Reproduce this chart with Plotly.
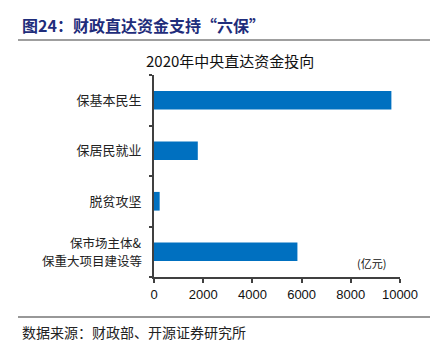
import plotly.graph_objects as go

categories = ["保基本民生", "保居民就业", "脱贫攻坚", "保市场主体&<br>保重大项目建设等"]
values = [9650, 1780, 230, 5830]
x_ticks = [0, 2000, 4000, 6000, 8000, 10000]

CJK = "Noto Sans CJK SC"
fig = go.Figure()
fig.add_trace(go.Bar(
    y=categories, x=values, orientation="h",
    marker=dict(color="#0070C0", line=dict(width=0)),
    width=0.37,
))

# multi-line category labels drawn as separate lines to keep proper spacing
tick_text = [c if "<br>" not in c else "" for c in categories]
label_annots = []
for c in categories:
    if "<br>" in c:
        parts = c.split("<br>")
        n = len(parts)
        for i, p in enumerate(parts):
            label_annots.append(dict(
                text=p, xref="paper", yref="y", x=(143-154)/246, y=c,
                xanchor="right", yanchor="middle", showarrow=False,
                borderpad=0, yshift=(n - 1) / 2 * 18 - i * 18,
                font=dict(family=CJK, size=12.5, color="#222")))

fig.update_layout(
    width=436, height=347,
    margin=dict(l=154, r=36, t=75, b=70),
    paper_bgcolor="white", plot_bgcolor="white",
    showlegend=False,
    xaxis=dict(
        range=[0, 10000], tickvals=x_ticks, ticktext=[str(v) for v in x_ticks],
        showgrid=False, zeroline=False, showline=True, linecolor="#404040", linewidth=2,
        ticks="outside", ticklen=4, tickcolor="#404040", tickwidth=1.5,
        tickfont=dict(family="Liberation Sans, Arial", size=13, color="#111"),
        fixedrange=True,
    ),
    yaxis=dict(
        categoryorder="array", categoryarray=categories, autorange="reversed",
        tickmode="array", tickvals=categories, ticktext=tick_text,
        showgrid=False, zeroline=False, showline=True, linecolor="#404040", linewidth=2,
        ticks="outside", ticklen=3, tickcolor="#404040", tickwidth=1.5,
        tickson="boundaries",
        tickfont=dict(family=CJK, size=13, color="#222"),
        ticklabelstandoff=8,
        fixedrange=True,
    ),
    bargap=0.63,
    annotations=label_annots + [
        dict(text="<b>图24：财政直达资金支持“六保”</b>", xref="paper", yref="paper",
             x=(20-154)/246, y=1 + (75-25)/202,
             xanchor="left", yanchor="middle", showarrow=False,
             font=dict(family=CJK, size=16, color="#1F2D7B")),
        dict(text="2020年中央直达资金投向", xref="paper", yref="paper",
             x=(230-154)/246, y=1 + (75-61)/202, xanchor="center", yanchor="middle",
             showarrow=False, font=dict(family=CJK, size=15, color="#111")),
        dict(text="(亿元)", xref="paper", yref="paper",
             x=(371-154)/246, y=(277-263)/202, xanchor="center", yanchor="middle",
             showarrow=False, font=dict(family=CJK, size=11, color="#111")),
        dict(text="数据来源：财政部、开源证券研究所", xref="paper", yref="paper",
             x=(20-154)/246, y=-(332-277)/202, xanchor="left", yanchor="middle",
             showarrow=False, font=dict(family=CJK, size=14, color="#222")),
    ],
    shapes=[
        dict(type="line", xref="paper", yref="paper",
             x0=(18-154)/246, x1=(430-154)/246, y0=1 + (75-40)/202, y1=1 + (75-40)/202,
             line=dict(color="#7F7F7F", width=1.5)),
        dict(type="line", xref="paper", yref="paper",
             x0=(18-154)/246, x1=(430-154)/246, y0=-(317-277)/202, y1=-(317-277)/202,
             line=dict(color="#333333", width=1.2)),
    ],
)

fig.write_html("out.html")
